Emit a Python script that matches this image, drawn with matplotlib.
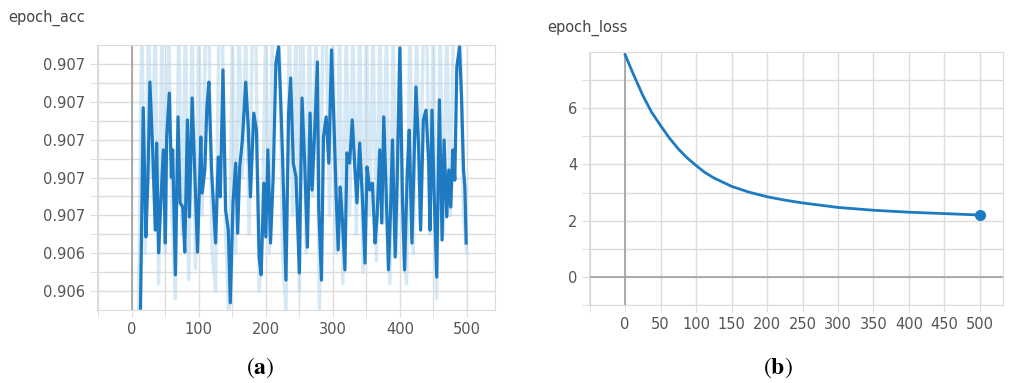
import numpy as np
import matplotlib.pyplot as plt
from matplotlib.ticker import FixedLocator

plt.rcParams['font.family'] = ['DejaVu Sans']
plt.rcParams['mathtext.fontset'] = 'stix'

# smoothed accuracy (dark line)
acc_epochs = [13, 17, 21, 24, 27, 31, 35, 37, 40, 43, 47, 50, 52, 56, 59, 61, 65, 69, 72, 76,
              79, 83, 86, 90, 94, 98, 103, 105, 109, 112, 115, 119, 125, 129, 132, 136, 140, 144, 147, 151,
              155, 158, 161, 165, 170, 174, 177, 182, 186, 190, 193, 197, 200, 203, 207, 211, 215, 219, 222, 225,
              230, 234, 237, 241, 245, 250, 254, 258, 262,
              266, 269, 273, 277, 279, 283, 286, 290, 294, 298, 302, 305, 308, 311, 314, 318, 321, 325, 329, 333,
              336, 340, 344, 348, 351, 355, 359, 363, 366, 370, 373, 376, 379, 383, 386, 389, 393, 396, 400, 404,
              407, 411, 414, 418, 421, 424, 428, 431, 435, 439, 443, 445, 448, 451, 455, 459, 463, 466, 470, 473,
              476, 479, 482, 485, 489, 492, 495, 497, 499]
acc_smooth = [0.906255, 0.906784, 0.906443, 0.906593, 0.906852, 0.906681, 0.906461, 0.906691, 0.906401, 0.906522,
              0.906673, 0.906427, 0.906707, 0.906823, 0.906601, 0.906673, 0.906343, 0.906760, 0.906533, 0.906522,
              0.906403, 0.906752, 0.906496, 0.906810, 0.906612, 0.906403, 0.906707, 0.906559, 0.906620, 0.906786,
              0.906852, 0.906620, 0.906427, 0.906654, 0.906549, 0.906884, 0.906514, 0.906461, 0.906269, 0.906533,
              0.906638, 0.906453, 0.906628, 0.906699, 0.906852, 0.906725, 0.906549, 0.906770, 0.906725, 0.906390,
              0.906343, 0.906585, 0.906443, 0.906673, 0.906427, 0.906601, 0.906902, 0.906945, 0.906813, 0.906654,
              0.906329, 0.906770, 0.906863, 0.906638, 0.906601, 0.906348, 0.906810, 0.906638, 0.906416,
              0.906770, 0.906567, 0.906725, 0.906905, 0.906514, 0.906329, 0.906707, 0.906760, 0.906638, 0.906937,
              0.906725, 0.906549, 0.906409, 0.906575, 0.906496, 0.906356, 0.906665, 0.906638, 0.906752, 0.906620,
              0.906533, 0.906691, 0.906549, 0.906374, 0.906628, 0.906567, 0.906585, 0.906427, 0.906496, 0.906673,
              0.906480, 0.906760, 0.906593, 0.906356, 0.906506, 0.906699, 0.906390, 0.906593, 0.906942, 0.906533,
              0.906356, 0.906612, 0.906725, 0.906427, 0.906638, 0.906839, 0.906681, 0.906461, 0.906752, 0.906778,
              0.906638, 0.906461, 0.906778, 0.906567, 0.906337, 0.906805, 0.906435, 0.906699, 0.906496, 0.906620,
              0.906522, 0.906673, 0.906593, 0.906892, 0.906945, 0.906813, 0.906620, 0.906575, 0.906427]

# raw accuracy (light band), rough reading
raw_epochs = list(range(10, 505, 5))
acc_raw = [0.90620, 0.90700, 0.90640, 0.90700, 0.90660, 0.90700, 0.90632, 0.90700, 0.90640, 0.90700,
           0.90650, 0.90628, 0.90700, 0.90645, 0.90700, 0.90633, 0.90700, 0.90636, 0.90700, 0.90650,
           0.90700, 0.90700, 0.90640, 0.90630, 0.90700, 0.90700, 0.90645, 0.90622, 0.90700, 0.90640,
           0.90700, 0.90660, 0.90700, 0.90645, 0.90700, 0.90700, 0.90630, 0.90650, 0.90700, 0.90640,
           0.90700, 0.90700, 0.90700, 0.90640, 0.90625, 0.90700, 0.90650, 0.90700, 0.90630, 0.90700,
           0.90640, 0.90700, 0.90655, 0.90700, 0.90625, 0.90700, 0.90700, 0.90650, 0.90700, 0.90640,
           0.90700, 0.90632, 0.90700, 0.90650, 0.90700, 0.90645, 0.90700, 0.90635, 0.90700, 0.90650,
           0.90700, 0.90638, 0.90700, 0.90648, 0.90700, 0.90632, 0.90700, 0.90640, 0.90700, 0.90645,
           0.90632, 0.90700, 0.90640, 0.90700, 0.90648, 0.90700, 0.90700, 0.90645, 0.90700, 0.90628,
           0.90700, 0.90645, 0.90700, 0.90650, 0.90700, 0.90700, 0.90700, 0.90650, 0.90640]

acc_ticks = [0.9063, 0.9064, 0.9065, 0.9066, 0.9067, 0.9068, 0.9069]
acc_ticklabels = ['0.906', '0.906', '0.907', '0.907', '0.907', '0.907', '0.907']

loss_epochs = [0, 10, 25, 37, 50, 62, 75, 87, 100, 112, 125, 150, 175, 200, 225, 250, 300, 350, 400, 450, 500]
loss_values = [7.9, 7.3, 6.45, 5.87, 5.38, 4.95, 4.55, 4.24, 3.96, 3.72, 3.52, 3.22, 3.01, 2.85, 2.73, 2.63,
               2.47, 2.37, 2.3, 2.25, 2.2]

line_c = '#1f7bc1'
grid_c = '#dcdcdc'
text_c = '#555555'


def style(ax):
    for s in ax.spines.values():
        s.set_color(grid_c)
    ax.grid(True, which='both', color=grid_c, lw=1)
    ax.tick_params(which='both', length=5, color=grid_c, labelcolor=text_c, labelsize=10.5)
    ax.set_axisbelow(True)


fig = plt.figure(figsize=(10.09, 3.83), dpi=100)

# (a) epoch_acc
ax1 = fig.add_axes([0.0961, 0.1906, 0.3945, 0.6919])
style(ax1)
ax1.set_xlim(-52, 542)
ax1.set_ylim(0.90625, 0.90695)
ax1.xaxis.set_major_locator(FixedLocator([0, 100, 200, 300, 400, 500]))
ax1.xaxis.set_minor_locator(FixedLocator([-50, 50, 150, 250, 350, 450]))
ax1.yaxis.set_major_locator(FixedLocator(acc_ticks))
ax1.yaxis.set_minor_locator(FixedLocator([0.90635, 0.90645, 0.90655, 0.90665, 0.90675, 0.90685]))
ax1.set_yticklabels(acc_ticklabels)
ax1.axvline(0, color='#a0a0a0', lw=1.2, zorder=1)
ax1.plot(raw_epochs, acc_raw, color='#b3d6ef', lw=2.5, alpha=0.55, zorder=2)
ax1.plot(acc_epochs, acc_smooth, color=line_c, lw=2.3, zorder=3)

# (b) epoch_loss
ax2 = fig.add_axes([0.5837, 0.2037, 0.410, 0.6606])
style(ax2)
ax2.set_xlim(-51, 532)
ax2.set_ylim(-1, 8)
ax2.xaxis.set_major_locator(FixedLocator(list(range(0, 501, 50))))
ax2.xaxis.set_minor_locator(FixedLocator([-50]))
ax2.yaxis.set_major_locator(FixedLocator([0, 2, 4, 6]))
ax2.yaxis.set_minor_locator(FixedLocator([-1, 1, 3, 5, 7]))
ax2.axvline(0, color='#a0a0a0', lw=1.2, zorder=1)
ax2.axhline(0, color='#a0a0a0', lw=1.2, zorder=1)
ax2.plot(loss_epochs, loss_values, color=line_c, lw=2.0, zorder=3)
ax2.plot(loss_epochs[-1:], loss_values[-1:], 'o', color=line_c, ms=7, zorder=4)

fig.text(0.008, 0.952, 'epoch_acc', fontsize=10.5, color='#444444', va='center')
fig.text(0.542, 0.927, 'epoch_loss', fontsize=10.5, color='#444444', va='center')
fig.text(0.2577, 0.040, r'$(\mathbf{a})$', fontsize=17, ha='center', va='center')
fig.text(0.7711, 0.040, r'$(\mathbf{b})$', fontsize=17, ha='center', va='center')

fig.savefig('out.png', dpi=100)
